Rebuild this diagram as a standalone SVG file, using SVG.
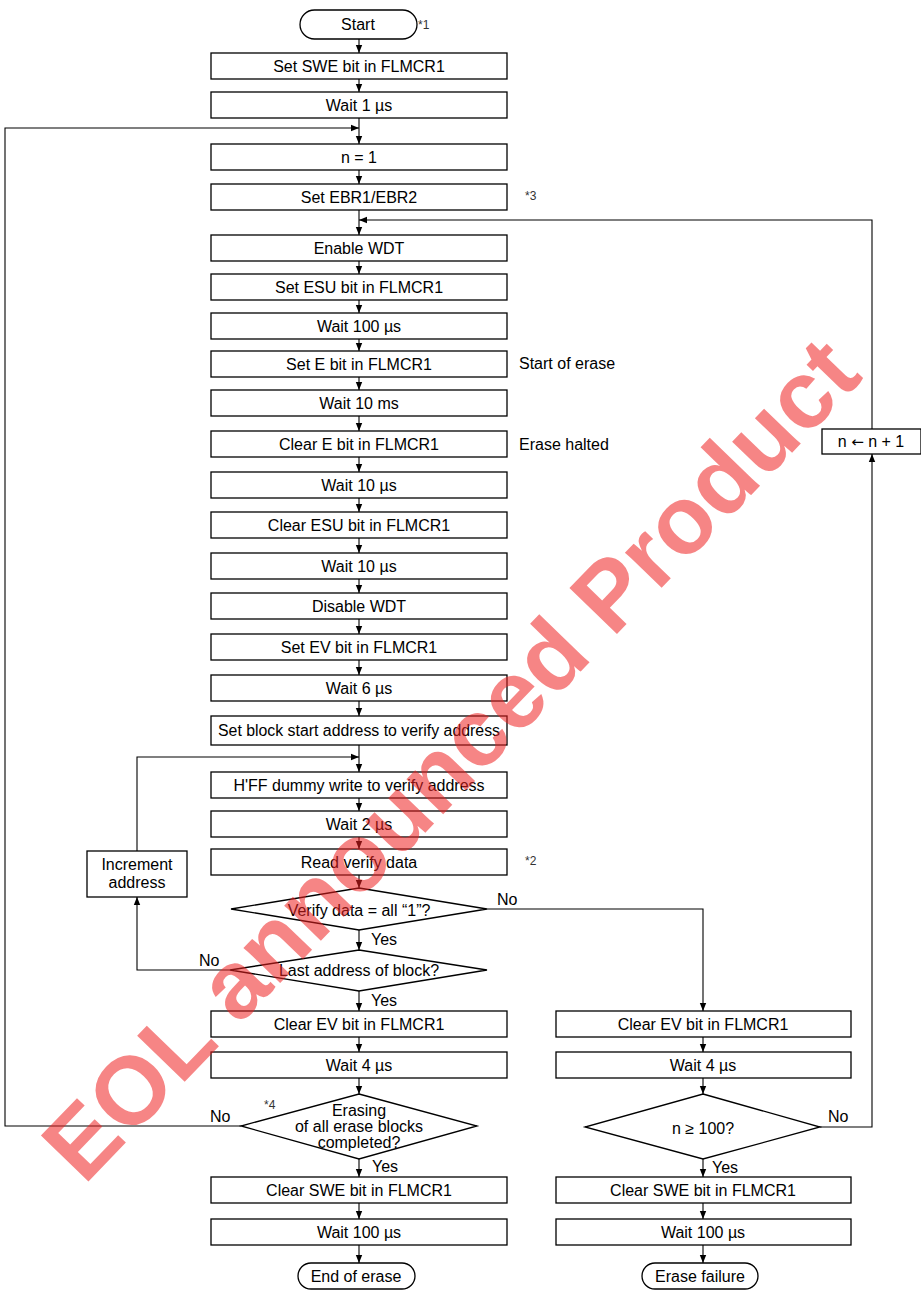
<svg xmlns="http://www.w3.org/2000/svg" width="921" height="1290" viewBox="0 0 921 1290">
<style>
.box{fill:#fff;stroke:#000;stroke-width:1.3}
.t{font-family:"Liberation Sans",Arial,sans-serif;font-size:16px;fill:#000;text-anchor:middle}
.l{font-family:"Liberation Sans",Arial,sans-serif;font-size:16px;fill:#000}
.n{font-family:"Liberation Sans",Arial,sans-serif;font-size:12px;fill:#333}
.c{fill:none;stroke:#000;stroke-width:1.1}
</style>
<defs>
<marker id="a" markerUnits="userSpaceOnUse" markerWidth="8" markerHeight="8" viewBox="0 0 8 8" refX="8" refY="4" orient="auto"><path d="M0,0.8 L8,4 L0,7.2 Z" fill="#000"/></marker>
</defs>
<rect width="921" height="1290" fill="#fff"/>
<g id="connectors">
<path class="c" marker-end="url(#a)" d="M359,39 V53"/>
<path class="c" marker-end="url(#a)" d="M359,79 V92"/>
<path class="c" marker-end="url(#a)" d="M359,118 V144"/>
<path class="c" marker-end="url(#a)" d="M359,170 V184"/>
<path class="c" marker-end="url(#a)" d="M359,210 V235"/>
<path class="c" marker-end="url(#a)" d="M359,261 V274"/>
<path class="c" marker-end="url(#a)" d="M359,300 V313"/>
<path class="c" marker-end="url(#a)" d="M359,339 V351"/>
<path class="c" marker-end="url(#a)" d="M359,377 V390"/>
<path class="c" marker-end="url(#a)" d="M359,416 V431"/>
<path class="c" marker-end="url(#a)" d="M359,457 V472"/>
<path class="c" marker-end="url(#a)" d="M359,498 V512"/>
<path class="c" marker-end="url(#a)" d="M359,538 V553"/>
<path class="c" marker-end="url(#a)" d="M359,579 V593"/>
<path class="c" marker-end="url(#a)" d="M359,619 V634"/>
<path class="c" marker-end="url(#a)" d="M359,660 V675"/>
<path class="c" marker-end="url(#a)" d="M359,701 V716"/>
<path class="c" marker-end="url(#a)" d="M359,745 V772"/>
<path class="c" marker-end="url(#a)" d="M359,798 V811"/>
<path class="c" marker-end="url(#a)" d="M359,837 V849"/>
<path class="c" marker-end="url(#a)" d="M359,875 V888"/>
<path class="c" marker-end="url(#a)" d="M359,930 V950"/>
<path class="c" marker-end="url(#a)" d="M359,991 V1011"/>
<path class="c" marker-end="url(#a)" d="M359,1037 V1052"/>
<path class="c" marker-end="url(#a)" d="M359,1078 V1094"/>
<path class="c" marker-end="url(#a)" d="M359,1159 V1177"/>
<path class="c" marker-end="url(#a)" d="M359,1203 V1219"/>
<path class="c" marker-end="url(#a)" d="M359,1245 V1263"/>
<path class="c" marker-end="url(#a)" d="M703,1037 V1052"/>
<path class="c" marker-end="url(#a)" d="M703,1078 V1094"/>
<path class="c" marker-end="url(#a)" d="M703,1159 V1177"/>
<path class="c" marker-end="url(#a)" d="M703,1203 V1219"/>
<path class="c" marker-end="url(#a)" d="M703,1245 V1263"/>
<path class="c" marker-end="url(#a)" d="M487,909 H703 V1011"/>
<path class="c" marker-end="url(#a)" d="M820,1127 H872 V454"/>
<path class="c" marker-end="url(#a)" d="M872,429 V220 H359"/>
<path class="c" marker-end="url(#a)" d="M241,1126 H5 V128 H359"/>
<path class="c" marker-end="url(#a)" d="M230,970 H137 V897"/>
<path class="c" marker-end="url(#a)" d="M137,851 V757 H359"/>
</g>
<g id="start"><rect class="box" x="300" y="10" width="117" height="29" rx="14.5"/><text class="t" x="358" y="30">Start</text></g>
<g id="n1"><rect class="box" x="211" y="53" width="296" height="26"/><text class="t" x="359" y="71.5">Set SWE bit in FLMCR1</text></g>
<g id="n2"><rect class="box" x="211" y="92" width="296" height="26"/><text class="t" x="359" y="110.5">Wait 1 µs</text></g>
<g id="n3"><rect class="box" x="211" y="144" width="296" height="26"/><text class="t" x="359" y="162.5">n = 1</text></g>
<g id="n4"><rect class="box" x="211" y="184" width="296" height="26"/><text class="t" x="359" y="202.5">Set EBR1/EBR2</text></g>
<g id="n5"><rect class="box" x="211" y="235" width="296" height="26"/><text class="t" x="359" y="253.5">Enable WDT</text></g>
<g id="n6"><rect class="box" x="211" y="274" width="296" height="26"/><text class="t" x="359" y="292.5">Set ESU bit in FLMCR1</text></g>
<g id="n7"><rect class="box" x="211" y="313" width="296" height="26"/><text class="t" x="359" y="331.5">Wait 100 µs</text></g>
<g id="n8"><rect class="box" x="211" y="351" width="296" height="26"/><text class="t" x="359" y="369.5">Set E bit in FLMCR1</text></g>
<g id="n9"><rect class="box" x="211" y="390" width="296" height="26"/><text class="t" x="359" y="408.5">Wait 10 ms</text></g>
<g id="n10"><rect class="box" x="211" y="431" width="296" height="26"/><text class="t" x="359" y="449.5">Clear E bit in FLMCR1</text></g>
<g id="n11"><rect class="box" x="211" y="472" width="296" height="26"/><text class="t" x="359" y="490.5">Wait 10 µs</text></g>
<g id="n12"><rect class="box" x="211" y="512" width="296" height="26"/><text class="t" x="359" y="530.5">Clear ESU bit in FLMCR1</text></g>
<g id="n13"><rect class="box" x="211" y="553" width="296" height="26"/><text class="t" x="359" y="571.5">Wait 10 µs</text></g>
<g id="n14"><rect class="box" x="211" y="593" width="296" height="26"/><text class="t" x="359" y="611.5">Disable WDT</text></g>
<g id="n15"><rect class="box" x="211" y="634" width="296" height="26"/><text class="t" x="359" y="652.5">Set EV bit in FLMCR1</text></g>
<g id="n16"><rect class="box" x="211" y="675" width="296" height="26"/><text class="t" x="359" y="693.5">Wait 6 µs</text></g>
<g id="n17"><rect class="box" x="211" y="716" width="296" height="29"/><text class="t" x="359" y="736" textLength="282" lengthAdjust="spacingAndGlyphs">Set block start address to verify address</text></g>
<g id="n18"><rect class="box" x="211" y="772" width="296" height="26"/><text class="t" x="359" y="790.5">H'FF dummy write to verify address</text></g>
<g id="n19"><rect class="box" x="211" y="811" width="296" height="26"/><text class="t" x="359" y="829.5">Wait 2 µs</text></g>
<g id="n20"><rect class="box" x="211" y="849" width="296" height="26"/><text class="t" x="359" y="867.5">Read verify data</text></g>
<g id="inc"><rect class="box" x="87" y="851" width="100" height="46"/><text class="t" x="137" y="869.5">Increment</text><text class="t" x="137" y="887.5">address</text></g>
<g id="d1"><polygon class="box" points="359,888 487,909 359,930 231,909"/><text class="t" x="359" y="915.5">Verify data = all “1”?</text></g>
<g id="d2"><polygon class="box" points="359,950 487,970 359,991 230,970"/><text class="t" x="359" y="976">Last address of block?</text></g>
<g id="n21"><rect class="box" x="211" y="1011" width="296" height="26"/><text class="t" x="359" y="1029.5">Clear EV bit in FLMCR1</text></g>
<g id="n22"><rect class="box" x="211" y="1052" width="296" height="26"/><text class="t" x="359" y="1070.5">Wait 4 µs</text></g>
<g id="d3"><polygon class="box" points="359,1094 477,1126 359,1159 241,1126"/><text class="t" x="359" y="1115.5">Erasing</text><text class="t" x="359" y="1132">of all erase blocks</text><text class="t" x="359" y="1147.5">completed?</text></g>
<g id="n23"><rect class="box" x="211" y="1177" width="296" height="26"/><text class="t" x="359" y="1195.5">Clear SWE bit in FLMCR1</text></g>
<g id="n24"><rect class="box" x="211" y="1219" width="296" height="26"/><text class="t" x="359" y="1237.5">Wait 100 µs</text></g>
<g id="end"><rect class="box" x="298" y="1263" width="117" height="26" rx="13"/><text class="t" x="356" y="1281.5">End of erase</text></g>
<g id="r1"><rect class="box" x="556" y="1011" width="295" height="26"/><text class="t" x="703" y="1029.5">Clear EV bit in FLMCR1</text></g>
<g id="r2"><rect class="box" x="556" y="1052" width="295" height="26"/><text class="t" x="703" y="1070.5">Wait 4 µs</text></g>
<g id="d4"><polygon class="box" points="703,1094 820,1127 703,1159 585,1127"/><text class="t" x="703" y="1134">n ≥ 100?</text></g>
<g id="r3"><rect class="box" x="556" y="1177" width="295" height="26"/><text class="t" x="703" y="1195.5">Clear SWE bit in FLMCR1</text></g>
<g id="r4"><rect class="box" x="556" y="1219" width="295" height="26"/><text class="t" x="703" y="1237.5">Wait 100 µs</text></g>
<g id="fail"><rect class="box" x="642" y="1263" width="116" height="26" rx="13"/><text class="t" x="700" y="1281.5">Erase failure</text></g>
<g id="inc1"><rect class="box" x="822" y="429" width="99" height="25"/><text class="t" x="871" y="447">n <tspan font-family="DejaVu Sans" font-size="15">←</tspan> n + 1</text></g>
<g id="labels">
<text class="n" x="418" y="29">*1</text>
<text class="n" x="525" y="200">*3</text>
<text class="n" x="525" y="865">*2</text>
<text class="n" x="264" y="1109">*4</text>
<text class="l" x="519" y="369">Start of erase</text>
<text class="l" x="519" y="450">Erase halted</text>
<text class="l" x="497" y="905">No</text>
<text class="l" x="371" y="945">Yes</text>
<text class="l" x="199" y="966">No</text>
<text class="l" x="371" y="1006">Yes</text>
<text class="l" x="210" y="1122">No</text>
<text class="l" x="372" y="1172">Yes</text>
<text class="l" x="828" y="1122">No</text>
<text class="l" x="712" y="1173">Yes</text>
</g>
<g id="watermark"><text transform="translate(84,1186) rotate(-46)" font-family="Liberation Sans,Arial,sans-serif" font-weight="bold" font-size="96" fill="#ee2020" fill-opacity="0.55">EOL announced Product</text></g>
</svg>
